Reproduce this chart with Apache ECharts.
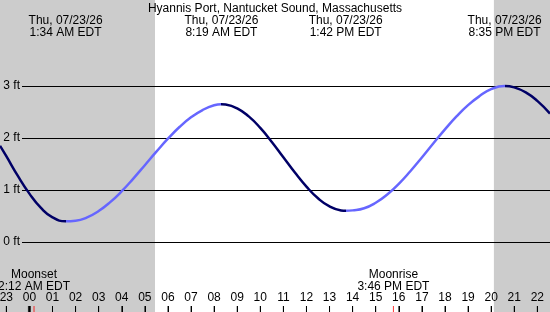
<!DOCTYPE html>
<html>
<head>
<meta charset="utf-8">
<script src="https://cdn.jsdelivr.net/npm/echarts@6/dist/echarts.min.js"></script>
<style>
  html, body { margin: 0; padding: 0; background: #fff; }
  #chart { width: 550px; height: 312px; }
</style>
</head>
<body>
<div id="chart"></div>
<script>
// Tide plot, hours relative to midnight 07/23/26 (EDT)
const stationName = 'Hyannis Port, Nantucket Sound, Massachusetts';

const hourTicks = [-1, 0, 1, 2, 3, 4, 5, 6, 7, 8, 9, 10, 11, 12, 13, 14, 15, 16, 17, 18, 19, 20, 21, 22];

const tideHours = [-1.27, -1, -0.5, 0, 0.5, 1, 1.567,
  2, 2.5, 3, 3.5, 4, 4.5, 5, 5.5, 6, 6.5, 7, 7.5, 8, 8.317,
  8.5, 9, 9.5, 10, 10.5, 11, 11.5, 12, 12.5, 13, 13.5, 13.7,
  14, 14.5, 15, 15.5, 16, 16.5, 17, 17.5, 18, 18.5, 19, 19.5, 20, 20.583,
  21, 21.5, 22, 22.55];
const tideFeet = [1.85, 1.65, 1.27, 0.93, 0.655, 0.474, 0.40,
  0.41, 0.474, 0.595, 0.766, 0.977, 1.219, 1.477, 1.737, 1.986, 2.211, 2.398, 2.538, 2.63, 2.65,
  2.644, 2.57, 2.415, 2.194, 1.925, 1.63, 1.335, 1.065, 0.841, 0.684, 0.607, 0.60,
  0.608, 0.648, 0.754, 0.913, 1.118, 1.361, 1.625, 1.898, 2.166, 2.415, 2.633, 2.806, 2.94, 3.0,
  2.974, 2.878, 2.715, 2.47];

// high / low tides
const extremeHours = [1.567, 8.317, 13.7, 20.583];
const extremeDates = ['Thu, 07/23/26', 'Thu, 07/23/26', 'Thu, 07/23/26', 'Thu, 07/23/26'];
const extremeTimes = ['1:34 AM EDT', '8:19 AM EDT', '1:42 PM EDT', '8:35 PM EDT'];

// night (before sunrise / after sunset)
const nightRanges = [[-2, 5.44], [20.12, 23]];

// moon events (tick spot, label)
const moonHours = [0.2, 15.767];
const moonNames = ['Moonset', 'Moonrise'];
const moonTimes = ['2:12 AM EDT', '3:46 PM EDT'];

const NAVY = '#000066';
const LIGHT = '#6666ff';
const FONT = 'Liberation Sans, Arial, sans-serif';
const Y_MIN = -70 / 52;   // bottom of the picture, in ft
const Y_MAX = 242 / 52;

const chart = echarts.init(document.getElementById('chart'), null, { renderer: 'canvas' });

const hourAxisBase = {
  type: 'value', gridIndex: 0, position: 'bottom',
  min: -2, max: 23, z: 3,
  axisLine: { show: false, onZero: false },
  axisTick: { show: false },
  splitLine: { show: false },
};
const labelStyle = { color: '#000', fontSize: 12, lineHeight: 12, fontFamily: FONT };

// short tick marks along the bottom edge
const tickSeries = (name, hours, color, w) => ({
  name, type: 'scatter',
  xAxisIndex: 0, yAxisIndex: 0,
  data: hours.map(h => [h, Y_MIN]),
  symbol: 'rect', symbolSize: [w, 6], symbolOffset: [0, -3],
  itemStyle: { color },
  clip: false,
  silent: true, z: 6,
});

chart.setOption({
  animation: false,
  backgroundColor: '#ffffff',
  textStyle: { fontFamily: FONT },
  title: {
    text: stationName,
    left: 'center', top: 3, padding: 0,
    textStyle: { fontFamily: FONT, fontSize: 12, fontWeight: 'normal', color: '#000' },
  },
  grid: [
    { left: -16.77, right: -10.4, top: 0, bottom: 0, outerBoundsMode: 'none', containLabel: false },
    { left: 22, right: 0, top: 86, bottom: 70, outerBoundsMode: 'none', containLabel: false },
    // thin strip along the bottom that holds the hour ticks
    { left: -16.77, right: -10.4, top: 306, bottom: 0, outerBoundsMode: 'none', containLabel: false },
  ],
  xAxis: [
    { // hour labels
      ...hourAxisBase,
      axisLabel: {
        ...labelStyle, inside: true, margin: 8,
        customValues: hourTicks,
        formatter: v => String((v + 24) % 24).padStart(2, '0'),
      },
    },
    { // moon events
      ...hourAxisBase,
      axisLabel: {
        ...labelStyle, inside: true, margin: 19,
        customValues: moonHours,
        formatter: v => { const i = moonHours.indexOf(v); return moonNames[i] + '\n' + moonTimes[i]; },
      },
    },
    { // high/low tide labels
      ...hourAxisBase,
      position: 'top',
      axisLabel: {
        ...labelStyle, inside: true, margin: 15,
        customValues: extremeHours,
        formatter: v => { const i = extremeHours.indexOf(v); return extremeDates[i] + '\n' + extremeTimes[i]; },
      },
    },
    { type: 'value', gridIndex: 1, show: false, min: 0, max: 1 },
    { // hour ticks
      type: 'value', gridIndex: 2, position: 'top',
      min: -2, max: 23, interval: 1, z: 4,
      axisLine: { show: false, onZero: false },
      axisTick: { show: true, inside: true, length: 6, lineStyle: { color: '#000', width: 1 } },
      axisLabel: { show: false },
      splitLine: { show: false },
    },
  ],
  yAxis: [
    { type: 'value', gridIndex: 0, show: false, min: Y_MIN, max: Y_MAX },
    {
      type: 'value', gridIndex: 1, min: 0, max: 3, interval: 1, z: 3,
      axisLine: { show: false },
      axisTick: { show: false },
      axisLabel: { margin: 2, color: '#000', fontSize: 12, fontFamily: FONT, formatter: '{value} ft' },
      splitLine: { lineStyle: { color: '#000', width: 1 } },
    },
    { type: 'value', gridIndex: 2, show: false, min: 0, max: 1 },
  ],
  visualMap: {
    show: false,
    type: 'piecewise',
    seriesIndex: 1,
    dimension: 0,
    pieces: [
      { lt: extremeHours[0], color: NAVY },
      { gte: extremeHours[0], lt: extremeHours[1], color: LIGHT },
      { gte: extremeHours[1], lt: extremeHours[2], color: NAVY },
      { gte: extremeHours[2], lt: extremeHours[3], color: LIGHT },
      { gte: extremeHours[3], color: NAVY },
    ],
  },
  series: [
    {
      name: 'night',
      type: 'line',
      xAxisIndex: 0, yAxisIndex: 0,
      data: [],
      z: -1,
      silent: true,
      markArea: {
        silent: true,
        z: -1,
        itemStyle: { color: '#cccccc' },
        data: nightRanges.map(r => [{ xAxis: r[0] }, { xAxis: r[1] }]),
      },
    },
    {
      name: 'tide',
      type: 'line',
      xAxisIndex: 0, yAxisIndex: 0,
      data: tideHours.map((h, i) => [h, tideFeet[i]]),
      smooth: true,
      symbol: 'none',
      z: 5,
      lineStyle: { width: 2.5 },
    },
    tickSeries('hour ticks', hourTicks, '#000', 1),
    tickSeries('midnight', [0], '#000', 3),
    tickSeries('moon', moonHours, '#ff0000', 1),
  ],
});
</script>
</body>
</html>
